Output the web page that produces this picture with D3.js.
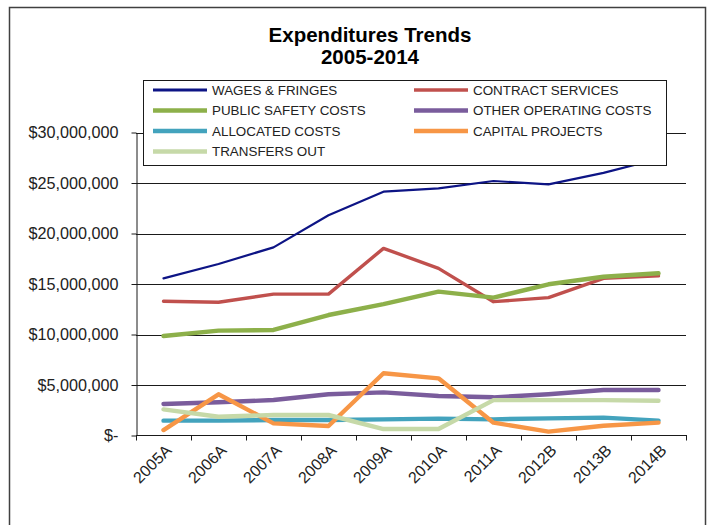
<!DOCTYPE html>
<html>
<head>
<meta charset="utf-8">
<script src="https://cdn.jsdelivr.net/npm/d3@7"></script>
<style>
  html, body { margin: 0; padding: 0; background: #fff; }
  svg { display: block; font-family: Arial, "Liberation Sans", sans-serif; }
</style>
</head>
<body>
<svg id="chart" width="714" height="525"></svg>
<script>
// Fiscal years (A = actual, B = budget)
const categories = ["2005A", "2006A", "2007A", "2008A", "2009A", "2010A", "2011A", "2012B", "2013B", "2014B"];

// Expenditures by category, in dollars
const wagesFringes      = [15560000, 16980000, 18630000, 21800000, 24140000, 24470000, 25200000, 24870000, 26000000, 27400000];
const contractServices  = [13290000, 13190000, 14000000, 14000000, 18530000, 16550000, 13250000, 13650000, 15560000, 15800000];
const publicSafetyCosts = [9850000, 10380000, 10450000, 11930000, 13000000, 14240000, 13650000, 14970000, 15720000, 16060000];
const otherOperating    = [3120000, 3290000, 3510000, 4080000, 4270000, 3910000, 3780000, 4080000, 4500000, 4500000];
const allocatedCosts    = [1470000, 1470000, 1530000, 1530000, 1600000, 1670000, 1600000, 1700000, 1770000, 1470000];
const capitalProjects   = [540000, 4080000, 1200000, 940000, 6160000, 5660000, 1270000, 380000, 970000, 1270000];
const transfersOut      = [2590000, 1860000, 2030000, 2030000, 640000, 640000, 3500000, 3500000, 3500000, 3440000];

const yTicks = [0, 5000000, 10000000, 15000000, 20000000, 25000000, 30000000];

const series = [
  { name: "WAGES & FRINGES",        values: wagesFringes,      color: "#0d1485", width: 2.2 },
  { name: "CONTRACT SERVICES",      values: contractServices,  color: "#c0504d", width: 3.4 },
  { name: "PUBLIC SAFETY COSTS",    values: publicSafetyCosts, color: "#8db04a", width: 4.4 },
  { name: "OTHER OPERATING COSTS",  values: otherOperating,    color: "#7a5c9c", width: 4.4 },
  { name: "ALLOCATED COSTS",        values: allocatedCosts,    color: "#43a3bd", width: 4.4 },
  { name: "CAPITAL PROJECTS",       values: capitalProjects,   color: "#f79646", width: 4.4 },
  { name: "TRANSFERS OUT",          values: transfersOut,      color: "#c6d9a8", width: 4.4 }
];

const svg = d3.select("#chart");

// Outer chart frame
svg.append("rect")
  .attr("x", 9.5).attr("y", 7.5)
  .attr("width", 696).attr("height", 540)
  .attr("fill", "#fff").attr("stroke", "#404040").attr("stroke-width", 1.5);

// Title
const title = svg.append("text")
  .attr("text-anchor", "middle")
  .attr("font-weight", "bold")
  .attr("font-size", 20.5)
  .attr("fill", "#000");
title.append("tspan").attr("x", 370).attr("y", 42).text("Expenditures Trends");
title.append("tspan").attr("x", 370).attr("y", 64).text("2005-2014");

// Scales
const x = d3.scaleBand().domain(categories).range([136, 686]);
const y = d3.scaleLinear().domain([0, 30000000]).range([435.5, 132.5]);

// Horizontal gridlines
svg.append("g")
  .selectAll("line")
  .data(yTicks.filter(d => d > 0))
  .join("line")
  .attr("x1", 136).attr("x2", 686)
  .attr("y1", d => Math.round(y(d)) + 0.5).attr("y2", d => Math.round(y(d)) + 0.5)
  .attr("stroke", "#1a1a1a").attr("stroke-width", 1);

// Y axis
const fmt = d => d === 0 ? "$-" : "$" + d3.format(",")(d);
const yAxis = svg.append("g")
  .attr("transform", "translate(136.5,0)")
  .call(d3.axisLeft(y).tickValues(yTicks).tickFormat(fmt).tickSize(5).tickSizeOuter(0).tickPadding(13));
yAxis.select(".domain").attr("stroke", "#1a1a1a");
yAxis.selectAll(".tick line").attr("stroke", "#1a1a1a");
yAxis.selectAll("text")
  .attr("font-size", 16.2)
  .attr("font-family", "Arial, 'Liberation Sans', sans-serif")
  .attr("fill", "#222");

// X axis: ticks sit at the band boundaries
const xAxisG = svg.append("g").attr("transform", "translate(0,435.5)");
xAxisG.append("line")
  .attr("x1", 136).attr("x2", 687)
  .attr("stroke", "#1a1a1a");
const boundaries = categories.map(c => x(c)).concat([x.range()[1]]);
xAxisG.selectAll("line.tk")
  .data(boundaries)
  .join("line")
  .attr("class", "tk")
  .attr("x1", d => Math.round(d) + 0.5).attr("x2", d => Math.round(d) + 0.5)
  .attr("y1", 0).attr("y2", 5)
  .attr("stroke", "#1a1a1a");
xAxisG.selectAll("text")
  .data(categories)
  .join("text")
  .attr("transform", d => `translate(${x(d) + x.bandwidth() / 2 + 5},${12}) rotate(-45)`)
  .attr("text-anchor", "end")
  .attr("dy", "0.35em")
  .attr("font-size", 16)
  .attr("fill", "#222")
  .text(d => d);

// Series lines
const line = d3.line()
  .x((d, i) => x(categories[i]) + x.bandwidth() / 2)
  .y(d => y(d));

svg.append("g")
  .selectAll("path")
  .data(series)
  .join("path")
  .attr("d", s => line(s.values))
  .attr("fill", "none")
  .attr("stroke", s => s.color)
  .attr("stroke-width", s => s.width)
  .attr("stroke-linejoin", "round")
  .attr("stroke-linecap", "round");

// Legend
const legend = svg.append("g");
legend.append("rect")
  .attr("x", 143.5).attr("y", 80.5)
  .attr("width", 523).attr("height", 85)
  .attr("fill", "#fff").attr("stroke", "#1a1a1a").attr("stroke-width", 1);

const cols = [153, 414];
const rows = [90, 110.5, 131, 151.5];
const items = legend.selectAll("g.item")
  .data(series)
  .join("g")
  .attr("class", "item")
  .attr("transform", (d, i) => `translate(${cols[i % 2]},${rows[Math.floor(i / 2)]})`);
items.append("line")
  .attr("x1", 0).attr("x2", 54)
  .attr("stroke", d => d.color)
  .attr("stroke-width", d => Math.max(d.width, 3.2));
items.append("text")
  .attr("x", 59)
  .attr("dy", "0.36em")
  .attr("font-size", 13.4)
  .attr("fill", "#222")
  .text(d => d.name);
</script>
</body>
</html>
